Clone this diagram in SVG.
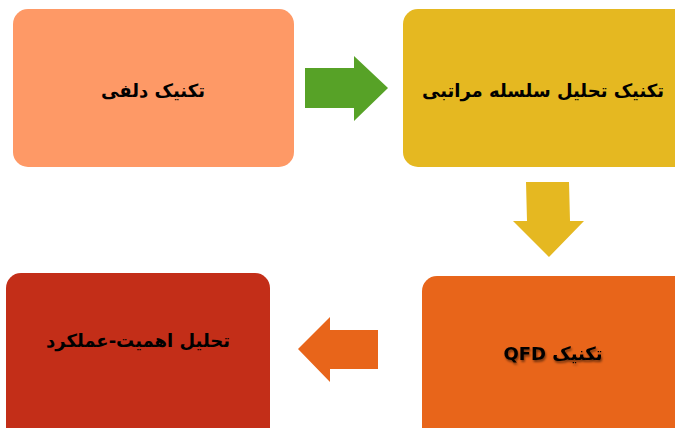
<svg xmlns="http://www.w3.org/2000/svg" width="675" height="428" viewBox="0 0 675 428">
<defs>
<style>
.t{font-family:"DejaVu Sans","Noto Sans",sans-serif;font-weight:bold;font-size:18px;fill:#000;text-anchor:middle;dominant-baseline:central;direction:rtl}
</style>
<filter id="sh" x="-20%" y="-50%" width="140%" height="200%">
<feDropShadow dx="1" dy="2" stdDeviation="1.2" flood-color="#000" flood-opacity="0.5"/>
</filter>
</defs>
<rect width="675" height="428" fill="#fff"/>
<g id="node-delphi">
<rect x="13" y="9" width="281" height="158" rx="15" fill="#FE9966"/>
<text class="t" x="153" y="90">تکنیک دلفی</text>
</g>
<g id="node-ahp">
<rect x="403" y="9" width="290" height="158" rx="15" fill="#E5B821"/>
<text class="t" x="543" y="90">تکنیک تحلیل سلسله مراتبی</text>
</g>
<g id="node-qfd">
<rect x="422" y="276" width="290" height="170" rx="15" fill="#E8651A"/>
<text class="t" x="553" y="353" filter="url(#sh)">تکنیک QFD</text>
</g>
<g id="node-ipa">
<rect x="6" y="273" width="264" height="170" rx="15" fill="#C32E18"/>
<text class="t" x="138" y="340">تحلیل اهمیت-عملکرد</text>
</g>
<g id="connectors">
<polygon points="305,68 354,68 354,56 388,88 354,121 354,108 305,108" fill="#57A227"/>
<polygon points="526,182 569,182 570,221 584,221 549,257 513,221 527,221" fill="#E5B821"/>
<polygon points="378,330 330,330 330,317 298,349 330,382 330,369 378,369" fill="#E8651A"/>
</g>
</svg>
